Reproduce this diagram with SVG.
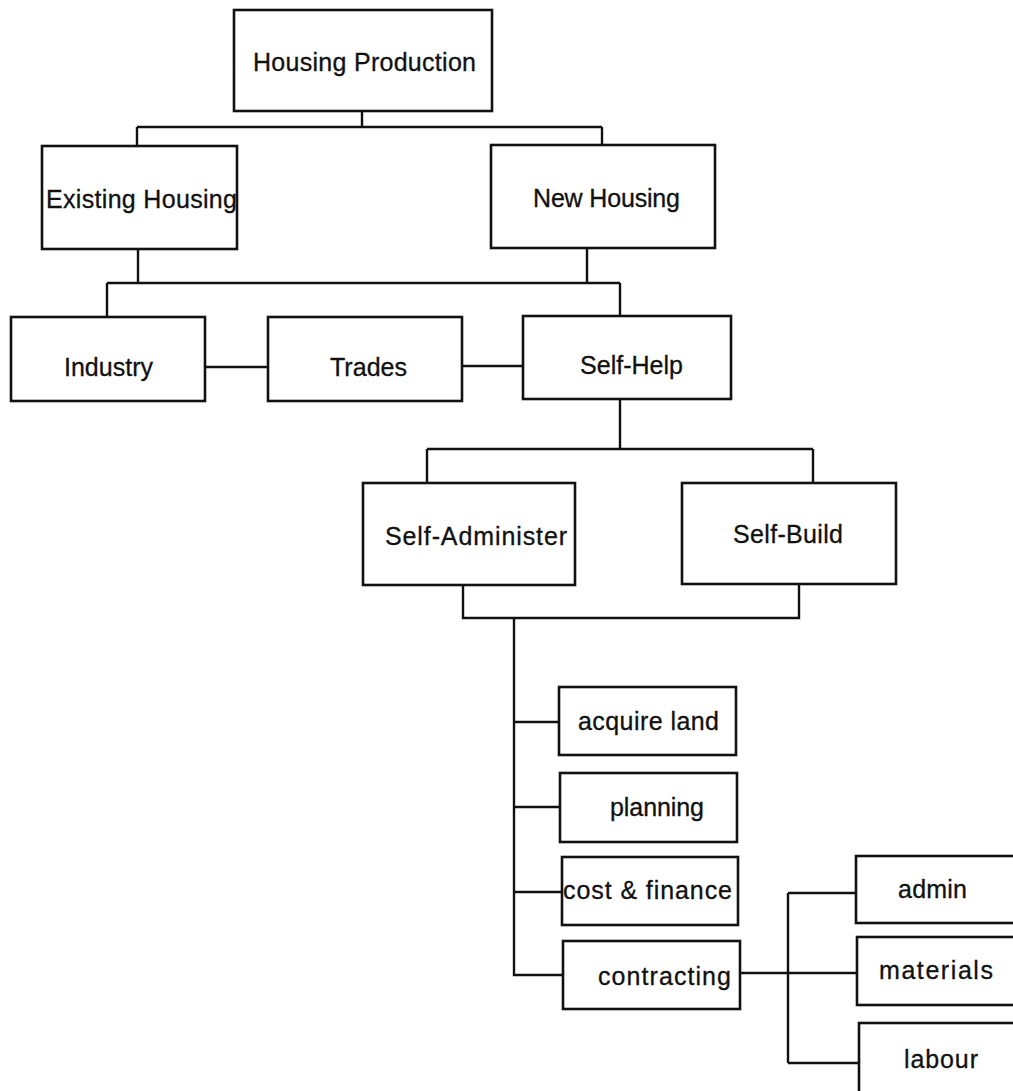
<svg xmlns="http://www.w3.org/2000/svg" width="1013" height="1091" viewBox="0 0 1013 1091">
<style>
.box{fill:#fff;stroke:#111;stroke-width:2.6}
.lbl{font-family:"Liberation Sans",Arial,Helvetica,sans-serif;font-size:25px;fill:#111;stroke:#111;stroke-width:0.3}
.con{fill:none;stroke:#111;stroke-width:2.4}
</style>
<rect width="1013" height="1091" fill="#fff"/>
<g id="connectors" class="con">
<path d="M362 111V127M137 127H602M137 127V146M602 127V145"/>
<path d="M138 249V283M587 248V283M107 283H620M107 283V317M620 283V316"/>
<path d="M205 367H268M462 366H523"/>
<path d="M620 399V449M427 449H813M427 449V483M813 449V483"/>
<path d="M463 585V618H799V584M514 618V975H563"/>
<path d="M514 722H559M514 807H560M514 892H562"/>
<path d="M740 973H857M788 893V1063M788 893H856M788 1063H859"/>
</g>
<g id="housing-production"><rect class="box" x="234" y="10" width="258" height="101"/><text class="lbl" x="253" y="71" textLength="223" lengthAdjust="spacing">Housing Production</text></g>
<g id="existing-housing"><rect class="box" x="42" y="146" width="195" height="103"/><text class="lbl" x="46" y="208" textLength="191" lengthAdjust="spacing">Existing Housing</text></g>
<g id="new-housing"><rect class="box" x="491" y="145" width="224" height="103"/><text class="lbl" x="533" y="207" textLength="147" lengthAdjust="spacing">New Housing</text></g>
<g id="industry"><rect class="box" x="11" y="317" width="194" height="84"/><text class="lbl" x="64" y="376" textLength="89" lengthAdjust="spacing">Industry</text></g>
<g id="trades"><rect class="box" x="268" y="317" width="194" height="84"/><text class="lbl" x="330" y="376" textLength="77" lengthAdjust="spacing">Trades</text></g>
<g id="self-help"><rect class="box" x="523" y="316" width="208" height="83"/><text class="lbl" x="580" y="374" textLength="103" lengthAdjust="spacing">Self-Help</text></g>
<g id="self-administer"><rect class="box" x="363" y="483" width="212" height="102"/><text class="lbl" x="385" y="545" textLength="182" lengthAdjust="spacing">Self-Administer</text></g>
<g id="self-build"><rect class="box" x="682" y="483" width="214" height="101"/><text class="lbl" x="733" y="543" textLength="110" lengthAdjust="spacing">Self-Build</text></g>
<g id="acquire-land"><rect class="box" x="559" y="687" width="177" height="68"/><text class="lbl" x="578" y="730" textLength="141" lengthAdjust="spacing">acquire land</text></g>
<g id="planning"><rect class="box" x="560" y="773" width="177" height="69"/><text class="lbl" x="610" y="816" textLength="94" lengthAdjust="spacing">planning</text></g>
<g id="cost-finance"><rect class="box" x="562" y="857" width="176" height="68"/><text class="lbl" x="563" y="899" textLength="169" lengthAdjust="spacing">cost &amp; finance</text></g>
<g id="contracting"><rect class="box" x="563" y="941" width="177" height="68"/><text class="lbl" x="598" y="985" textLength="133" lengthAdjust="spacing">contracting</text></g>
<g id="admin"><rect class="box" x="856" y="856" width="170" height="67"/><text class="lbl" x="898" y="898" textLength="69" lengthAdjust="spacing">admin</text></g>
<g id="materials"><rect class="box" x="857" y="937" width="170" height="68"/><text class="lbl" x="879" y="979" textLength="114" lengthAdjust="spacing">materials</text></g>
<g id="labour"><rect class="box" x="859" y="1023" width="170" height="80"/><text class="lbl" x="904" y="1068" textLength="74" lengthAdjust="spacing">labour</text></g>
</svg>
